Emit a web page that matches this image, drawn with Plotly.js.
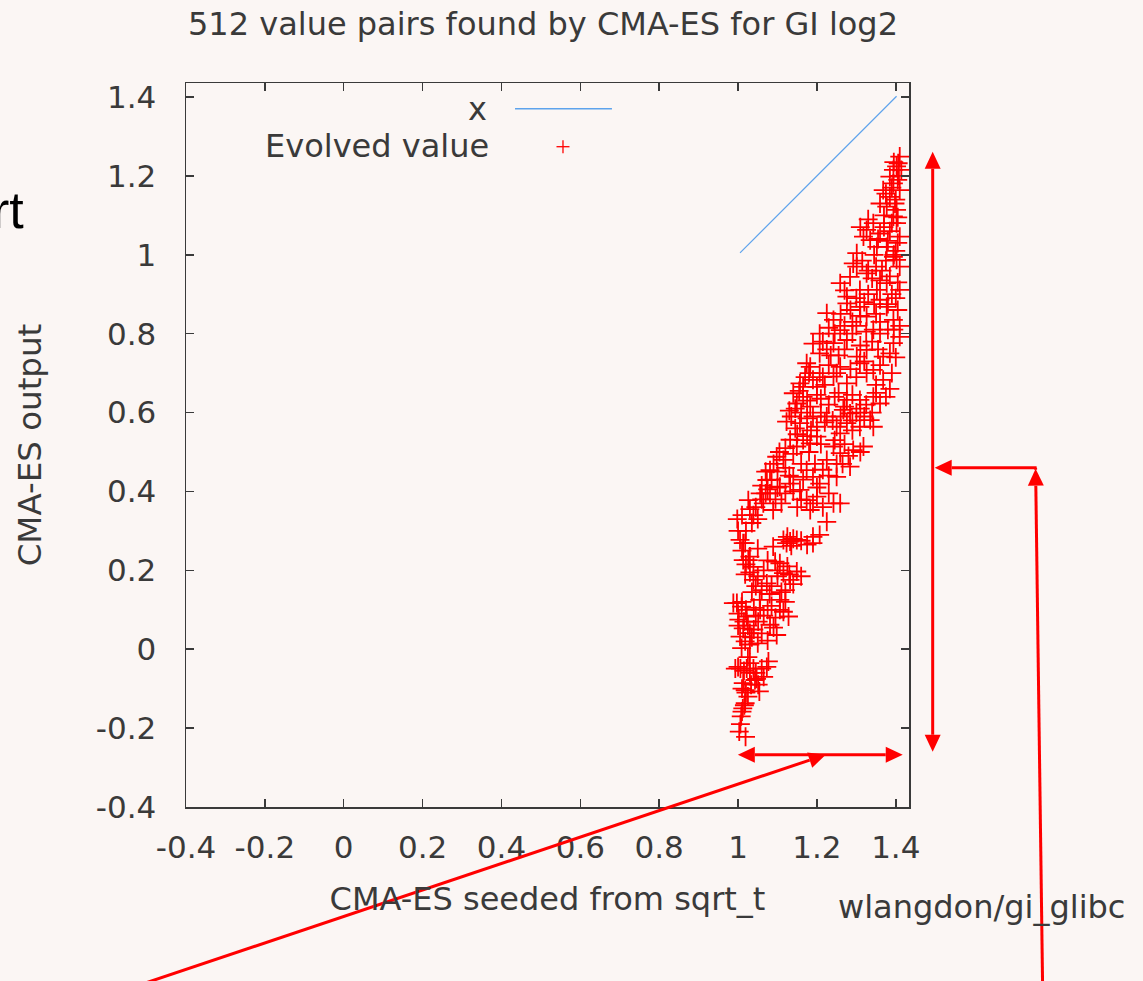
<!DOCTYPE html>
<html>
<head>
<meta charset="utf-8">
<script src="https://cdn.plot.ly/plotly-3.0.1.min.js"></script>
<style>
  html, body { margin: 0; padding: 0; background: #fbf6f4; }
  #chart { width: 1143px; height: 981px; }
</style>
</head>
<body>
<div id="chart"></div>
<script>
// ---- Data ----
const titleText = "512 value pairs found by CMA-ES for GI log2";
const xTitle = "CMA-ES seeded from sqrt_t";
const yTitle = "CMA-ES output";
const tickVals = [-0.4, -0.2, 0, 0.2, 0.4, 0.6, 0.8, 1, 1.2, 1.4];
const tickText = ["-0.4", "-0.2", "0", "0.2", "0.4", "0.6", "0.8", "1", "1.2", "1.4"];
const lineName = "x";
const pointsName = "Evolved value";
const lineX = [1.005, 1.402];
const lineY = [1.005, 1.402];

const evolvedX = [
  1.019,1.003,1.006,1.008,1.012,1.016,1.018,1.010,
  0.993,1.006,1.022,1.039,1.060,1.073,1.077,1.013,1.051,1.054,1.047,1.030,1.000,1.015,1.033,1.020,1.018,1.043,1.030,
  0.988,0.997,1.009,1.022,1.056,1.106,1.106,1.128,1.013,1.030,1.009,1.098,1.081,1.051,1.005,1.000,1.015,1.025,1.040,1.065,1.085,1.095,1.115,1.000,1.018,1.030,1.060,1.075,1.010,1.002,1.045,1.120,1.090,
  1.026,1.039,1.013,1.106,1.115,1.132,1.060,1.073,1.149,1.039,1.094,1.020,1.030,1.050,1.045,1.085,1.100,1.125,1.140,1.120,1.160,1.018,1.065,1.080,1.110,
  1.123,1.190,1.013,1.089,1.018,1.115,1.132,1.149,1.190,1.207,1.030,1.140,1.160,1.125,1.005,1.175,1.135,1.010,1.225,0.998,1.000,
  1.039,1.064,1.081,1.106,1.132,1.157,1.174,1.200,1.242,1.259,1.183,1.056,1.089,1.010,1.026,1.045,1.070,1.095,1.120,1.140,1.060,1.075,1.050,1.215,1.160,1.030,1.100,1.230,
  1.098,1.081,1.073,1.115,1.140,1.174,1.190,1.207,1.250,1.284,1.225,1.242,1.259,1.292,1.318,1.132,1.149,1.183,1.200,1.090,1.105,1.120,1.160,1.180,1.215,1.265,1.230,1.140,1.165,1.070,1.270,
  1.123,1.157,1.200,1.225,1.250,1.276,1.309,1.335,1.267,1.284,1.343,1.259,1.135,1.145,1.175,1.210,1.240,1.290,1.320,1.130,1.300,1.185,
  1.149,1.165,1.183,1.140,1.309,1.343,1.276,1.360,1.155,1.175,1.200,1.230,1.255,1.290,1.325,1.145,
  1.157,1.190,1.207,1.242,1.276,1.326,1.368,1.390,1.259,1.183,1.309,1.343,1.170,1.220,1.300,1.350,1.230,1.200,1.385,
  1.174,1.207,1.207,1.242,1.276,1.326,1.360,1.394,1.410,1.301,1.259,1.368,1.225,1.290,1.340,1.400,1.190,1.255,1.380,
  1.225,1.242,1.276,1.326,1.360,1.377,1.394,1.410,1.343,1.309,1.260,1.290,1.350,1.405,1.230,1.320,
  1.259,1.284,1.309,1.326,1.352,1.377,1.402,1.394,1.410,1.301,1.276,1.340,1.365,1.390,1.270,1.315,
  1.292,1.301,1.326,1.343,1.360,1.377,1.394,1.402,1.410,1.352,1.335,1.318,1.310,1.345,1.385,1.400,1.330,
  1.368,1.385,1.394,1.377,1.402,1.410,1.385,1.360,1.400,1.370,
  1.410,1.406,1.394,1.414,1.402,1.408,
  1.395,1.405,1.390,1.375,1.398,1.405,1.390,1.370,1.355,1.380,1.405,1.395,1.375,1.350,1.330,1.360,1.385,1.405,1.400,1.380,
  1.345,1.330,1.300,1.285,1.310,1.360,1.395,1.410,1.325,1.300,1.270,1.245,1.215,1.235,1.270,1.310,1.355,1.385,1.360,1.320,
  1.285,1.250,1.215,1.180,1.165,1.210,1.245,1.270,1.310,1.340,1.350,1.375,1.160,1.190,1.220,1.260,1.290,1.150,1.175,1.210,
  1.245,1.280,1.310,1.250,1.195,1.120,1.130,1.165,1.085,1.100,1.060,1.110,1.150,1.190,1.200,1.035,1.020,1.050,1.075,1.100,
  1.130,1.035,1.055,1.075,1.040,1.020,1.035,1.050,1.025,1.045,1.065,1.010,1.025
];
const evolvedY = [
  -0.222,-0.209,-0.190,-0.170,-0.150,-0.142,-0.137,-0.158,
  -0.049,-0.049,-0.049,-0.049,-0.049,-0.045,-0.031,-0.086,-0.090,-0.107,-0.075,-0.060,-0.045,-0.055,-0.090,-0.110,-0.104,-0.078,-0.035,
  0.117,0.117,0.108,0.083,0.100,0.125,0.100,0.083,0.053,0.041,0.003,0.036,0.062,0.070,0.032,0.090,0.070,0.060,0.050,0.085,0.110,0.080,0.095,0.060,0.020,0.012,0.040,0.022,0.120,0.075,0.085,0.120,0.055,
  0.226,0.209,0.226,0.218,0.193,0.176,0.150,0.167,0.197,0.176,0.222,0.215,0.195,0.185,0.160,0.160,0.185,0.210,0.165,0.150,0.185,0.190,0.200,0.140,0.145,
  0.269,0.269,0.269,0.260,0.269,0.277,0.273,0.277,0.285,0.290,0.235,0.280,0.275,0.285,0.277,0.265,0.262,0.250,0.323,0.330,0.300,
  0.340,0.370,0.395,0.412,0.420,0.404,0.378,0.387,0.370,0.370,0.353,0.395,0.353,0.340,0.378,0.360,0.395,0.380,0.395,0.400,0.415,0.405,0.330,0.360,0.380,0.355,0.410,0.395,
  0.488,0.454,0.429,0.480,0.437,0.454,0.437,0.420,0.437,0.463,0.480,0.514,0.497,0.505,0.514,0.531,0.514,0.522,0.539,0.470,0.500,0.460,0.470,0.500,0.455,0.470,0.440,0.495,0.530,0.450,0.520,
  0.577,0.573,0.564,0.590,0.564,0.573,0.564,0.581,0.607,0.598,0.564,0.547,0.590,0.560,0.585,0.600,0.580,0.555,0.590,0.605,0.600,0.555,
  0.623,0.640,0.615,0.649,0.632,0.640,0.632,0.623,0.655,0.630,0.645,0.620,0.650,0.645,0.620,0.610,
  0.674,0.683,0.700,0.691,0.674,0.700,0.683,0.700,0.716,0.716,0.725,0.708,0.690,0.670,0.690,0.670,0.720,0.665,0.660,
  0.725,0.750,0.800,0.776,0.784,0.759,0.800,0.776,0.792,0.742,0.809,0.742,0.760,0.800,0.780,0.740,0.775,0.745,0.810,
  0.852,0.835,0.877,0.843,0.886,0.868,0.835,0.911,0.810,0.868,0.850,0.830,0.850,0.860,0.815,0.880,
  0.928,0.944,0.911,0.953,0.911,0.928,0.987,0.995,0.970,0.970,0.894,0.940,0.960,0.900,0.910,0.985,
  0.978,1.004,1.063,1.080,1.054,1.020,1.097,1.080,1.046,1.020,1.037,1.046,1.070,1.000,1.060,1.010,1.090,
  1.164,1.147,1.181,1.122,1.114,1.164,1.198,1.130,1.140,1.100,
  1.249,1.232,1.215,1.215,1.224,1.200,
  1.235,1.190,1.170,1.155,1.130,1.095,1.080,1.070,1.040,1.035,1.030,1.000,0.985,0.970,0.960,0.935,0.945,0.930,0.890,0.875,
  0.875,0.900,0.890,0.860,0.845,0.830,0.810,0.820,0.805,0.820,0.820,0.800,0.780,0.745,0.760,0.770,0.760,0.750,0.720,0.730,
  0.710,0.700,0.690,0.700,0.665,0.635,0.640,0.615,0.610,0.600,0.650,0.640,0.600,0.590,0.575,0.590,0.580,0.545,0.540,0.520,
  0.530,0.490,0.500,0.470,0.470,0.510,0.440,0.430,0.430,0.450,0.380,0.370,0.360,0.370,0.410,0.320,0.300,0.255,0.225,0.200,
  0.190,0.145,0.125,0.100,0.105,0.100,0.030,0.015,-0.020,-0.060,-0.070,-0.100,-0.120
];

// ---- Layout geometry (pixels of the 1143x981 page) ----
const W = 1143, H = 981;
const L = 185.7, R = 909.3, T = 83.3, B = 807.3;
const px = p => (p - L) / (R - L);
const py = p => (B - p) / (B - T);
const bg = "#fbf6f4";
const ink = "#3a3a3a";
const red = "#ff0000";
const fam = "DejaVu Sans, sans-serif";

// arrow helpers (annotation drawing on the picture)
const shapes = [];
function seg(x0, y0, x1, y1, color, width) {
  shapes.push({type: "line", xref: "paper", yref: "paper",
    x0: px(x0), y0: py(y0), x1: px(x1), y1: py(y1),
    line: {color: color, width: width}});
}
function head(tx, ty, dx, dy) {
  const n = Math.hypot(dx, dy); dx /= n; dy /= n;
  const len = 17, half = 8;
  const bx = tx - dx * len, by = ty - dy * len;
  const p1x = bx - dy * half, p1y = by + dx * half;
  const p2x = bx + dy * half, p2y = by - dx * half;
  shapes.push({type: "path", xref: "paper", yref: "paper",
    path: `M ${px(tx)} ${py(ty)} L ${px(p1x)} ${py(p1y)} L ${px(p2x)} ${py(p2y)} Z`,
    fillcolor: red, line: {color: red, width: 0}});
  return [bx, by];
}
function arrow(x0, y0, x1, y1, both) {
  let s = [x0, y0], e = head(x1, y1, x1 - x0, y1 - y0);
  if (both) s = head(x0, y0, x0 - x1, y0 - y1);
  seg(s[0], s[1], e[0], e[1], red, 3);
}
arrow(933, 152, 933, 752, true);
arrow(738, 755, 903, 755, true);
arrow(140, 985, 826, 755, false);
arrow(1043, 985, 1036, 469, false);
seg(1036, 468, 1036, 470, red, 3);
arrow(1037, 468, 935, 468, false);

// legend drawing
seg(515, 109, 612, 109, "#5ea3ec", 1.5);
seg(556.5, 147, 569.5, 147, red, 1.3);
seg(563, 140.5, 563, 153.5, red, 1.3);

const annotations = [
  {text: lineName, xref: "paper", yref: "paper", x: px(489), y: py(109), xanchor: "right", yanchor: "middle",
   showarrow: false, font: {family: fam, size: 32, color: ink}},
  {text: pointsName, xref: "paper", yref: "paper", x: px(491), y: py(146), xanchor: "right", yanchor: "middle",
   showarrow: false, font: {family: fam, size: 32, color: ink}},
  {text: "wlangdon/gi_glibc", xref: "paper", yref: "paper", x: px(982), y: py(907), xanchor: "center", yanchor: "middle",
   showarrow: false, font: {family: fam, size: 32, color: ink}},
  {text: "rt", xref: "paper", yref: "paper", x: px(26), y: py(210), xanchor: "right", yanchor: "middle",
   showarrow: false, font: {family: "Liberation Sans, Arial, sans-serif", size: 52, color: "#000000"}}
];

const traces = [
  {x: lineX, y: lineY, type: "scatter", mode: "lines", name: lineName,
   line: {color: "#5ea3ec", width: 1.2}, showlegend: false, hoverinfo: "skip"},
  {x: evolvedX, y: evolvedY, type: "scatter", mode: "markers", name: pointsName,
   marker: {symbol: "cross-thin-open", size: 13.5, color: red, line: {color: red, width: 1.8}},
   showlegend: false}
];

const axisCommon = {
  tickvals: tickVals, ticktext: tickText,
  ticks: "inside", ticklen: 8, tickwidth: 1.5, tickcolor: ink,
  showline: true, linecolor: ink, linewidth: 1.5, mirror: "ticks",
  showgrid: false, zeroline: false, fixedrange: true,
  tickfont: {family: fam, size: 31, color: ink}
};

const layout = {
  width: W, height: H,
  paper_bgcolor: bg, plot_bgcolor: bg,
  margin: {l: L, r: W - R, t: T, b: H - B, pad: 0},
  title: {text: titleText, x: 543 / W, xanchor: "center", y: 1 - 24 / H, yanchor: "middle",
          font: {family: fam, size: 32, color: ink}},
  xaxis: Object.assign({}, axisCommon, {
    range: [-0.4, 1.4335], ticklabelstandoff: 12,
    title: {text: xTitle, standoff: 24, font: {family: fam, size: 32, color: ink}}
  }),
  yaxis: Object.assign({}, axisCommon, {
    range: [-0.4, 1.4355], ticklabelstandoff: 22,
    title: {text: yTitle, standoff: 44, font: {family: fam, size: 32.5, color: ink}}
  }),
  shapes: shapes,
  annotations: annotations,
  showlegend: false
};

Plotly.newPlot("chart", traces, layout, {displayModeBar: false, staticPlot: true});
</script>
</body>
</html>
